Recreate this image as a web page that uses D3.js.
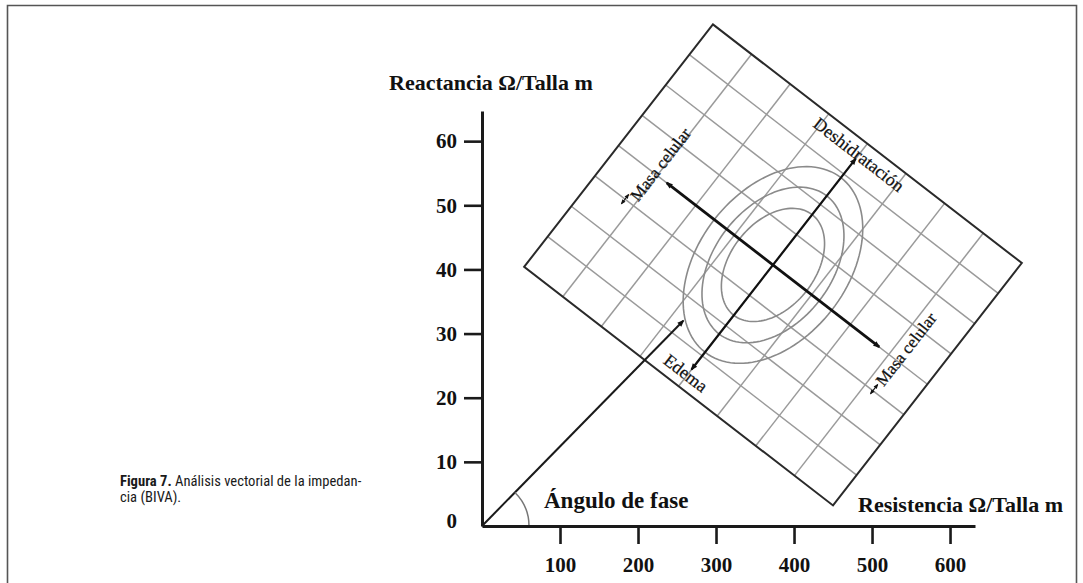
<!DOCTYPE html>
<html>
<head>
<meta charset="utf-8">
<script src="https://cdn.jsdelivr.net/npm/d3@7"></script>
<style>
  html, body { margin: 0; padding: 0; background: #fff; }
  svg { display: block; }
</style>
</head>
<body>
<svg id="chart" width="1083" height="583"></svg>
<script>
// ---------- data ----------
const xTicks = [100, 200, 300, 400, 500, 600];
const yTicks = [10, 20, 30, 40, 50, 60];
const xMax = 632;          // resistance axis end
const yMax = 64.7;         // reactance axis end
// BIVA grid frame, given in (R, Xc) data units
const gridOrigin = [296, 78.2];   // top corner
const gridUEnd  = [692, 41.0];    // right corner
const gridVEnd  = [54, 40.4];     // left corner
const gridDivisions = 8;
// tolerance ellipses, in grid units
const ellipseCenter = [4, 4];
const ellipseRadiiU = [0.87, 1.2, 1.52];
const ellipseRadiiV = [1.66, 2.28, 2.88];
// vectors (grid units)
const masaArrow = [[1.25, 4], [6.75, 4]];
const hydrationArrow = [[4, 7.45], [4, 0.5]];
// phase angle vector (R, Xc)
const phaseVector = [[0, 0], [258, 32]];
// labels
const labelTexts = ["Deshidratación", "Edema", "Masa celular", "Masa celular"];
const axisTitles = ["Reactancia Ω/Talla m", "Resistencia Ω/Talla m", "Ángulo de fase"];

// ---------- setup ----------
const svg = d3.select("#chart");
const serif = "'Liberation Serif', 'Times New Roman', serif";
const narrow = "'Liberation Sans Narrow', 'Arial Narrow', 'Roboto Condensed', 'Liberation Sans', sans-serif";

const xScale = d3.scaleLinear().domain([0, xMax]).range([482, 975]);
const yScale = d3.scaleLinear().domain([0, yMax]).range([526, 111]);

// frame
svg.append("path")
  .attr("d", "M7.5,590V5.5H1076.5V590")
  .attr("fill", "none").attr("stroke", "#555").attr("stroke-width", 1.6);

// grid mapping
function g2d(u, v) {
  const k = 1 / gridDivisions;
  return [
    gridOrigin[0] + u * k * (gridUEnd[0] - gridOrigin[0]) + v * k * (gridVEnd[0] - gridOrigin[0]),
    gridOrigin[1] + u * k * (gridUEnd[1] - gridOrigin[1]) + v * k * (gridVEnd[1] - gridOrigin[1])
  ];
}
const px = d => [xScale(d[0]), yScale(d[1])];
const line = d3.line().x(d => xScale(d[0])).y(d => yScale(d[1]));
const closedLine = d3.line().x(d => xScale(d[0])).y(d => yScale(d[1])).curve(d3.curveLinearClosed);

// markers
const defs = svg.append("defs");
defs.append("marker")
  .attr("id", "ah").attr("viewBox", "0 0 10 10")
  .attr("refX", 8).attr("refY", 5)
  .attr("markerUnits", "userSpaceOnUse")
  .attr("markerWidth", 9).attr("markerHeight", 7)
  .attr("orient", "auto-start-reverse")
  .append("path").attr("d", "M0,1 L10,5 L0,9 z").attr("fill", "#111");
defs.append("marker")
  .attr("id", "ahs").attr("viewBox", "0 0 10 10")
  .attr("refX", 8).attr("refY", 5)
  .attr("markerUnits", "userSpaceOnUse")
  .attr("markerWidth", 6).attr("markerHeight", 5)
  .attr("orient", "auto-start-reverse")
  .append("path").attr("d", "M0,1 L10,5 L0,9 z").attr("fill", "#111");

// grid lines
const gridG = svg.append("g");
const idx = d3.range(1, gridDivisions);
idx.forEach(i => {
  gridG.append("path").attr("d", line([g2d(i, 0), g2d(i, gridDivisions)]))
    .attr("stroke", "#9a9a9a").attr("stroke-width", 1.5).attr("fill", "none");
  gridG.append("path").attr("d", line([g2d(0, i), g2d(gridDivisions, i)]))
    .attr("stroke", "#9a9a9a").attr("stroke-width", 1.5).attr("fill", "none");
});
gridG.append("path")
  .attr("d", closedLine([g2d(0, 0), g2d(gridDivisions, 0), g2d(gridDivisions, gridDivisions), g2d(0, gridDivisions)]))
  .attr("stroke", "#2a2a2a").attr("stroke-width", 2).attr("fill", "none");

// ellipses
const tSteps = d3.range(0, 360, 3).map(a => a * Math.PI / 180);
ellipseRadiiU.forEach((ru, i) => {
  const rv = ellipseRadiiV[i];
  const pts = tSteps.map(t => g2d(ellipseCenter[0] + ru * Math.cos(t), ellipseCenter[1] + rv * Math.sin(t)));
  svg.append("path").attr("d", closedLine(pts))
    .attr("fill", "none").attr("stroke", "#8a8a8a").attr("stroke-width", 1.6);
});

// arrows
svg.append("path").attr("d", line(masaArrow.map(d => g2d(d[0], d[1]))))
  .attr("stroke", "#111").attr("stroke-width", 2.8).attr("fill", "none")
  .attr("marker-start", "url(#ah)").attr("marker-end", "url(#ah)");
svg.append("path").attr("d", line(hydrationArrow.map(d => g2d(d[0], d[1]))))
  .attr("stroke", "#111").attr("stroke-width", 2.2).attr("fill", "none")
  .attr("marker-start", "url(#ah)").attr("marker-end", "url(#ah)");

// small marks next to Masa celular labels
[[0.78, 4.85, 5.15], [7.2, 4.8, 5.1]].forEach(m => {
  svg.append("path").attr("d", line([g2d(m[0], m[1]), g2d(m[0], m[2])]))
    .attr("stroke", "#111").attr("stroke-width", 1.2).attr("fill", "none")
    .attr("marker-start", "url(#ahs)").attr("marker-end", "url(#ahs)");
});

// phase vector
svg.append("path").attr("d", line(phaseVector))
  .attr("stroke", "#1a1a1a").attr("stroke-width", 2).attr("fill", "none")
  .attr("marker-end", "url(#ah)");
// phase arc
const o = px(phaseVector[0]);
const e = px(phaseVector[1]);
const ang = Math.atan2(e[1] - o[1], e[0] - o[0]);
const r = 47;
svg.append("path")
  .attr("d", `M${o[0] + r},${o[1]} A${r},${r} 0 0 0 ${o[0] + r * Math.cos(ang)},${o[1] + r * Math.sin(ang)}`)
  .attr("fill", "none").attr("stroke", "#777").attr("stroke-width", 1.5);

// grid labels
const uP = px(g2d(1, 0)), oP = px(g2d(0, 0)), vP = px(g2d(0, 1));
const angU = Math.atan2(uP[1] - oP[1], uP[0] - oP[0]) * 180 / Math.PI;
const angV = Math.atan2(oP[1] - vP[1], oP[0] - vP[0]) * 180 / Math.PI;
const labelPos = [[4.0, 0.36, angU, 18], [3.95, 7.62, angU, 18], [0.92, 3.72, angV, 17], [7.22, 3.62, angV, 17]];
labelTexts.forEach((t, i) => {
  const p = px(g2d(labelPos[i][0], labelPos[i][1]));
  svg.append("text")
    .attr("transform", `translate(${p[0]},${p[1]}) rotate(${labelPos[i][2]})`)
    .attr("text-anchor", "middle").attr("dominant-baseline", "central")
    .attr("font-family", serif).attr("font-size", labelPos[i][3])
    .attr("fill", "#111").attr("stroke", "#111").attr("stroke-width", 0.25)
    .text(t);
});

// axes
const xAxis = d3.axisBottom(xScale).tickValues(xTicks).tickSize(18).tickSizeOuter(0).tickPadding(13);
const yAxis = d3.axisLeft(yScale).tickValues(yTicks).tickSize(18).tickSizeOuter(0).tickPadding(7);
const gx = svg.append("g").attr("transform", `translate(0,${yScale(0)})`).call(xAxis);
const gy = svg.append("g").attr("transform", `translate(${xScale(0)},0)`).call(yAxis);
[gx, gy].forEach(g => {
  g.select(".domain").attr("stroke", "#1a1a1a").attr("stroke-width", 3);
  g.selectAll(".tick line").attr("stroke", "#1a1a1a").attr("stroke-width", 2.6);
  g.selectAll(".tick text").attr("font-family", serif).attr("font-weight", "bold")
    .attr("font-size", 21).attr("fill", "#111");
});
svg.append("text").attr("x", xScale(0) - 25).attr("y", yScale(0) - 5).attr("dy", "0.32em")
  .attr("text-anchor", "end").attr("font-family", serif).attr("font-weight", "bold")
  .attr("font-size", 21).attr("fill", "#111").text("0");

// axis titles
svg.append("text").attr("x", 389).attr("y", 90)
  .attr("font-family", serif).attr("font-weight", "bold").attr("font-size", 22).attr("fill", "#111")
  .text(axisTitles[0]);
svg.append("text").attr("x", 858).attr("y", 512)
  .attr("font-family", serif).attr("font-weight", "bold").attr("font-size", 22).attr("fill", "#111")
  .text(axisTitles[1]);
svg.append("text").attr("x", 544).attr("y", 508)
  .attr("font-family", serif).attr("font-weight", "bold").attr("font-size", 23).attr("fill", "#111")
  .text(axisTitles[2]);

// caption
const cap = svg.append("g").attr("font-family", narrow).attr("font-size", 14.6).attr("fill", "#1a1a1a");
const l1 = cap.append("text").attr("x", 120).attr("y", 486);
l1.append("tspan").attr("font-weight", "bold").text("Figura 7.");
l1.append("tspan").text(" Análisis vectorial de la impedan-");
cap.append("text").attr("x", 120).attr("y", 502).text("cia (BIVA).");
</script>
</body>
</html>
